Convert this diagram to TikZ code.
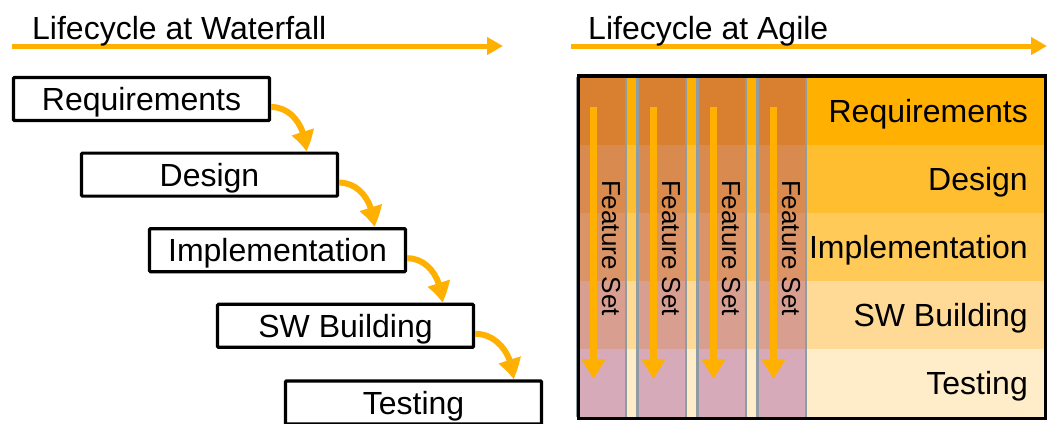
\documentclass[tikz,border=0pt]{standalone}
\usepackage{fontspec}
\setmainfont{Liberation Sans}
\usetikzlibrary{arrows.meta,calc,bending}

% palette
\definecolor{amber}{HTML}{FFB000}
\definecolor{rowA}{HTML}{FFB000}
\definecolor{rowB}{HTML}{FFBE30}
\definecolor{rowC}{HTML}{FFCA58}
\definecolor{rowD}{HTML}{FFDA96}
\definecolor{rowE}{HTML}{FFEDC9}
\definecolor{colA}{HTML}{D8802F}
\definecolor{colB}{HTML}{D98A4E}
\definecolor{colC}{HTML}{DA9467}
\definecolor{colD}{HTML}{D89F90}
\definecolor{colE}{HTML}{D6AAB9}
\definecolor{divider}{HTML}{8F9CA3}

\begin{document}
\begin{tikzpicture}[x=1pt,y=-1pt,
  font=\fontsize{32}{38}\selectfont,
  phase/.style={draw=black, line width=3.2pt, fill=white,
    minimum width=256pt, minimum height=43pt, inner sep=0pt,
    text height=23pt, text depth=0pt, rounded corners=1pt},
  timeline/.style={draw=amber, line width=5pt,
    -{Triangle[length=16pt,width=17pt]}},
  handoff/.style={draw=amber, line width=6pt,
    -{Triangle[length=20pt,width=22pt,bend]}},
  flow/.style={draw=amber, line width=7pt,
    -{Triangle[length=20pt,width=23pt]}},
  featlabel/.style={rotate=-90, inner sep=0pt,
    font=\fontsize{26}{30}\selectfont},
  rowlabel/.style={anchor=base east, inner sep=0pt},
  title/.style={anchor=base west, inner sep=0pt}
]
\useasboundingbox (0,0) rectangle (1048,423);
\clip (0,0) rectangle (1048,423);

% ---------- Waterfall ----------
\coordinate (wfStart) at (12,46);
\coordinate (wfEnd) at (503,46);
\draw[timeline] (wfStart) -- (wfEnd);
\node[title] (wfTitle) at (32,39) {Lifecycle at Waterfall};

\node[phase] (req) at (141.5,99) {Requirements};
\node[phase] (des) at (209.5,174.6) {Design};
\node[phase] (imp) at (277.5,250.2) {Implementation};
\node[phase] (swb) at (345.5,325.8) {SW Building};
\node[phase] (tst) at (413.5,402.5) {Testing};

\draw[handoff] ($(req.east)+(0,8)$) to[out=0,in=90] ($(req.east |- des.north)+(35,0)$);
\draw[handoff] ($(des.east)+(0,8)$) to[out=0,in=90] ($(des.east |- imp.north)+(35,0)$);
\draw[handoff] ($(imp.east)+(0,8)$) to[out=0,in=90] ($(imp.east |- swb.north)+(35,0)$);
\draw[handoff] ($(swb.east)+(0,8)$) to[out=0,in=90] ($(swb.east |- tst.north)+(38,0)$);

% ---------- Agile ----------
\coordinate (agStart) at (571,46);
\coordinate (agEnd) at (1047,46);
\draw[timeline] (agStart) -- (agEnd);
\node[title] (agTitle) at (588,39) {Lifecycle at Agile};

% phase bands across the whole panel
\foreach \c [count=\i from 0] in {rowA,rowB,rowC,rowD,rowE}
  \fill[\c] (578,{77+67.9*\i}) rectangle (1045,{77+67.9*(\i+1)});

% feature-set columns
\foreach \k in {0,...,3}{
  \foreach \c [count=\i from 0] in {colA,colB,colC,colD,colE}
    \fill[\c] ({577.5+60*\k},{77+67.9*\i}) rectangle ({626+60*\k},{77+67.9*(\i+1)});
  \draw[divider, line width=2.5pt] ({577.5+60*\k},77) -- ({577.5+60*\k},417);
  \draw[divider, line width=2.5pt] ({626+60*\k},77) -- ({626+60*\k},417);
  \coordinate (fsTop\k) at ({593.5+60*\k},107);
  \coordinate (fsEnd\k) at ({593.5+60*\k},379);
  \draw[flow] (fsTop\k) -- (fsEnd\k);
  \node[featlabel] (fs\k) at ({611+60*\k},248) {Feature Set};
}

% phase names
\node[rowlabel] (lblA) at (1028,{110.9+11.5}) {Requirements};
\node[rowlabel] (lblB) at (1028,{178.8+11.5}) {Design};
\node[rowlabel] (lblC) at (1028,{246.7+11.5}) {Implementation};
\node[rowlabel] (lblD) at (1028,{314.6+11.5}) {SW Building};
\node[rowlabel] (lblE) at (1028,{382.5+11.5}) {Testing};

% panel frame
\draw[line width=3.5pt] (578.5,76) rectangle (1045.5,418.5);
\end{tikzpicture}
\end{document}
